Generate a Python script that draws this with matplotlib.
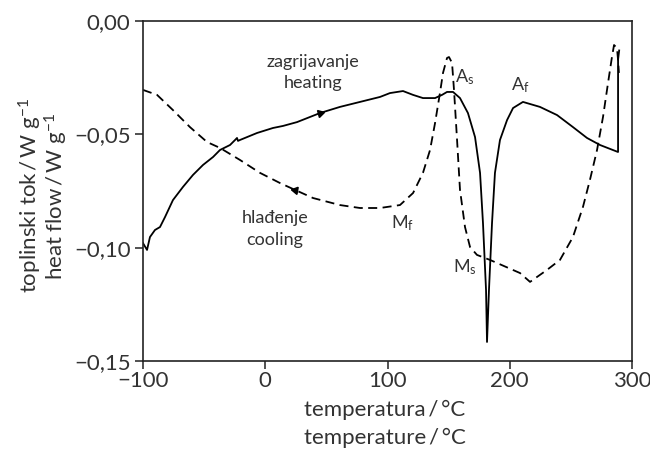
import matplotlib
matplotlib.use("Agg")
import matplotlib.pyplot as plt

plt.rcParams['font.family'] = ['Lato', 'DejaVu Sans']
plt.rcParams['mathtext.fontset'] = 'custom'
plt.rcParams['mathtext.rm'] = 'Lato'
plt.rcParams['mathtext.it'] = 'Lato:italic'
plt.rcParams['mathtext.bf'] = 'Lato:bold'

# heating curve (solid)
heat_T = [-100, -96.7, -94.3, -90.2, -86.1, -82.0, -75.5, -67.3, -59.1, -50.9, -42.7, -37.0,
          -28.8, -24.7, -23.1, -22.3, -20.7, -6.7, 6.3, 14.5, 26.0, 44.8, 61.1, 77.5, 93.9,
          102, 112.7, 120.9, 129, 138.9, 144.6, 148.7, 153.6, 159.3, 165.8, 171.6, 175.7,
          178.1, 180.6, 181.4, 183, 185.5, 187.9, 192, 197.8, 202.7, 210.8, 224.7, 238.7,
          251.7, 263.2, 273.8, 288.6, 288.6, 289.5]
heat_v = [-0.098, -0.101, -0.0953, -0.0922, -0.0909, -0.0865, -0.0790, -0.0732, -0.0679,
          -0.0635, -0.0600, -0.0569, -0.0547, -0.0525, -0.0516, -0.0529, -0.0525, -0.0494,
          -0.0472, -0.0463, -0.0446, -0.0406, -0.0379, -0.0357, -0.0335, -0.0318, -0.0309,
          -0.0326, -0.034, -0.034, -0.0326, -0.0313, -0.0313, -0.034, -0.0406, -0.0512, -0.067,
          -0.0891, -0.1187, -0.1416, -0.1187, -0.0891, -0.067, -0.0525, -0.0437, -0.0384,
          -0.0357, -0.0379, -0.0415, -0.0468, -0.0516, -0.0547, -0.0578, -0.017, -0.013]

# cooling curve (dashed)
cool_T = [-100, -88.5, -75.5, -61.6, -47.6, -37.0, -20.7, -4.3, 12.1, 24.3, 39.1, 61.1, 77.5,
          93.9, 110.2, 120.9, 129, 134.8, 138.9, 142.9, 145.4, 148.7, 150.3, 152.8, 154.4,
          156.9, 159.3, 163.4, 167.5, 173.2, 183.8, 208.4, 216.6, 230.5, 241.1, 251.7, 259.9,
          265.6, 271.4, 276.3, 280.4, 283.6, 285.3, 287.7, 288.6, 289.3]
cool_v = [-0.0304, -0.0326, -0.0393, -0.0468, -0.0534, -0.056, -0.0613, -0.067, -0.0715,
          -0.0745, -0.0781, -0.0812, -0.0825, -0.0825, -0.0812, -0.0759, -0.067, -0.0569,
          -0.045, -0.0318, -0.0229, -0.0163, -0.0159, -0.0185, -0.0304, -0.0525, -0.0745,
          -0.0909, -0.0997, -0.1032, -0.1054, -0.1112, -0.1151, -0.1098, -0.1054, -0.0953,
          -0.082, -0.0701, -0.0569, -0.0423, -0.0273, -0.0159, -0.0106, -0.0119, -0.0172,
          -0.0229]

x_ticks = [-100, 0, 100, 200, 300]
x_tick_labels = ['\u2212100', '0', '100', '200', '300']
y_ticks = [0.00, -0.05, -0.10, -0.15]
y_tick_labels = ['0,00', '\u22120,05', '\u22120,10', '\u22120,15']

tc = '#333333'
fig = plt.figure(figsize=(6.5, 4.51), dpi=100)
ax = fig.add_axes([143/650, 1-361/451, (632-143)/650, (361-21)/451])

ax.plot(heat_T, heat_v, color='black', lw=1.3, solid_joinstyle='round')
ax.plot(cool_T, cool_v, color='black', lw=1.3, linestyle=(0, (5, 3)))

# direction arrows
ax.plot([44.8], [-0.0406], marker=(3, 0, -75), color='black', markersize=6, linestyle='none')
ax.plot([24.3], [-0.0745], marker=(3, 0, 200), color='black', markersize=6, linestyle='none')

ax.set_xlim(-100, 300)
ax.set_ylim(-0.15, 0.0)
ax.set_xticks(x_ticks)
ax.set_xticklabels(x_tick_labels)
ax.set_yticks(y_ticks)
ax.set_yticklabels(y_tick_labels)
ax.tick_params(axis='both', direction='out', length=6, width=1.1, labelsize=16,
               colors='#222222', labelcolor=tc)
ax.tick_params(axis='x', pad=1)
ax.tick_params(axis='y', pad=3)
for s in ax.spines.values():
    s.set_linewidth(1.2)
    s.set_color('#222222')

fig.text(385/650, 1-410/451, 'temperatura\u2009/\u2009\u00b0C', ha='center', va='center',
         fontsize=16, color=tc)
fig.text(385/650, 1-438/451, 'temperature\u2009/\u2009\u00b0C', ha='center', va='center',
         fontsize=16, color=tc)
fig.text(30/650, 1-196/451, 'toplinski tok\u2009/\u2009W g$^{\u22121}$', ha='center',
         va='center', rotation=90, fontsize=16, color=tc)
fig.text(56/650, 1-196/451, 'heat flow\u2009/\u2009W g$^{\u22121}$', ha='center',
         va='center', rotation=90, fontsize=16, color=tc)

fs = 13
ax.text(39, -0.0181, 'zagrijavanje', ha='center', va='center', fontsize=fs, color=tc)
ax.text(39, -0.0273, 'heating', ha='center', va='center', fontsize=fs, color=tc)
ax.text(8, -0.0869, 'hlađenje', ha='center', va='center', fontsize=fs, color=tc)
ax.text(8, -0.0966, 'cooling', ha='center', va='center', fontsize=fs, color=tc)
ax.text(163.4, -0.0247, 'A$_\\mathregular{s}$', ha='center', va='center', fontsize=fs, color=tc)
ax.text(208.4, -0.0282, 'A$_\\mathregular{f}$', ha='center', va='center', fontsize=fs, color=tc)
ax.text(112.7, -0.0891, 'M$_\\mathregular{f}$', ha='center', va='center', fontsize=fs, color=tc)
ax.text(163.4, -0.1085, 'M$_\\mathregular{s}$', ha='center', va='center', fontsize=fs, color=tc)

fig.savefig('out.png', dpi=100)
